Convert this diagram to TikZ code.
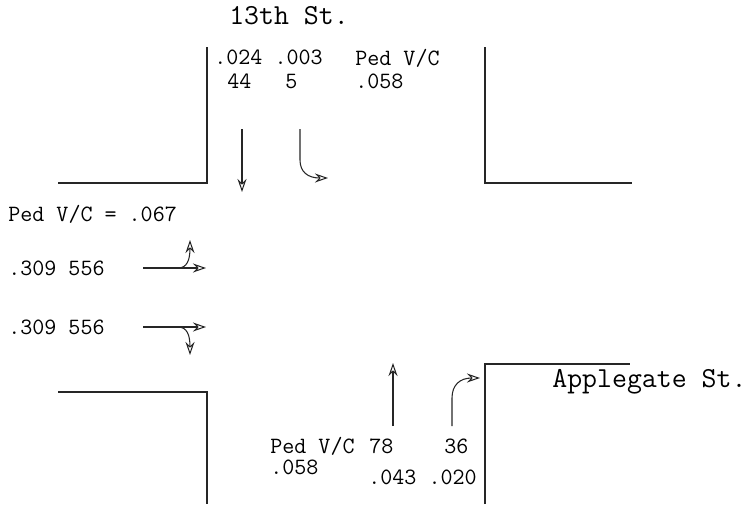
\documentclass[tikz,border=0pt]{standalone}
\usetikzlibrary{arrows.meta}
\tikzset{
  curb/.style={line width=0.7pt, black!85},
  move/.style={line width=0.6pt, black!85, -{Stealth[open, length=2.6mm, width=1.8mm]}},
  vol/.style={font=\ttfamily\fontsize{13.3}{14}\selectfont, anchor=west, inner sep=0pt},
  street/.style={font=\ttfamily\fontsize{16.5}{18}\selectfont, inner sep=0pt}
}

\begin{document}
\begin{tikzpicture}[x=0.02cm, y=-0.02cm]
  \useasboundingbox (0,0) rectangle (754,504);

  % Curb corners
  \draw[curb] (58,183) -- (207,183) -- (207,47);
  \draw[curb] (485,47) -- (485,183) -- (632,183);
  \draw[curb] (58,392) -- (207,392) -- (207,504);
  \draw[curb] (485,504) -- (485,364) -- (630,364);

  % Street names
  \node[street] (north) at (289,16) {13th St.};
  \node[street, anchor=base west] (east) at (552,387) {Applegate St.};

  % Southbound approach (13th St.)
  \node[vol] (sbvc) at (214,57) {.024 .003};
  \node[vol] (sbth) at (227,81) {44};
  \node[vol] (sbrt) at (285,81) {5};
  \node[vol] (nped) at (355,58) {Ped V/C};
  \node[vol] (npedv) at (355,81) {.058};
  \draw[move] (242,129) -- (242,192);
  \draw[move] (300,129) -- (300,160) .. controls (300,172) and (308,178) .. (328,178);

  % Eastbound approach (Applegate St.)
  \node[vol] (wped) at (8,214) {Ped V/C = .067};
  \node[vol] (eblt) at (8,268) {.309 556};
  \node[vol] (ebrt) at (8,327) {.309 556};
  \draw[move] (143,268) -- (206,268);
  \draw[move] (178,268) .. controls (187,268) and (190,260) .. (190,240);
  \draw[move] (143,327) -- (206,327);
  \draw[move] (178,327) .. controls (187,327) and (190,335) .. (190,355);

  % Northbound approach (13th St.)
  \node[vol] (sped) at (270,446) {Ped V/C};
  \node[vol] (spedv) at (270,467) {.058};
  \node[vol] (nbth) at (369,446) {78};
  \node[vol] (nbrt) at (444,446) {36};
  \node[vol] (nbvc) at (368,477) {.043 .020};
  \draw[move] (393,426) -- (393,363);
  \draw[move] (452,426) -- (452,398) .. controls (452,385) and (460,378) .. (480,378);
\end{tikzpicture}
\end{document}
